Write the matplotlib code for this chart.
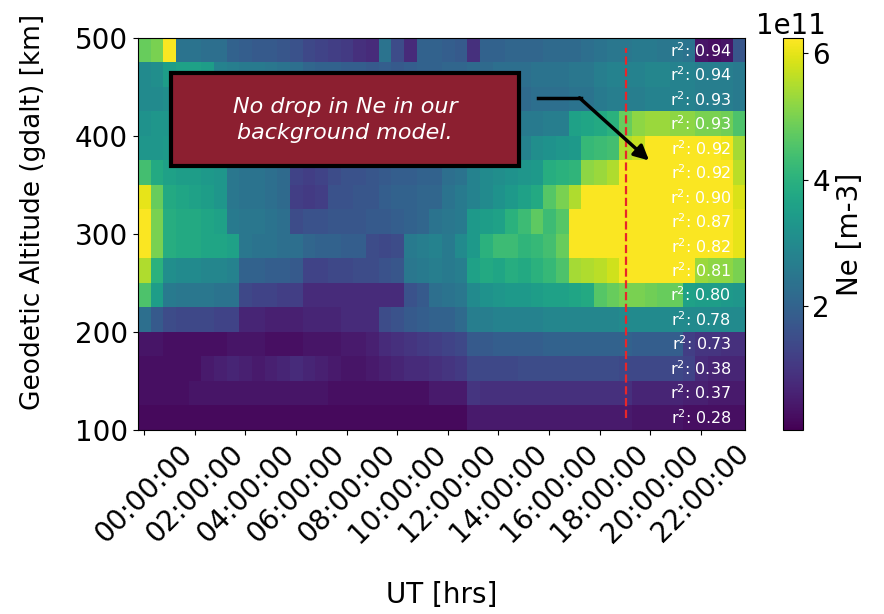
import numpy as np
import matplotlib
matplotlib.use("Agg")
import matplotlib.pyplot as plt
from matplotlib.patches import Rectangle

# half-hour UT bins (centres, hours) and 25 km altitude bins (centres, km, top -> bottom)
ut_hours = np.arange(48) * 0.5
alt_km = [487.5, 462.5, 437.5, 412.5, 387.5, 362.5, 337.5, 312.5,
          287.5, 262.5, 237.5, 212.5, 187.5, 162.5, 137.5, 112.5]

# background-model Ne, units of 1e11 m^-3, one list per altitude row (top -> bottom)
ne_grid = [
    [4.8, 5.0, 6.2, 2.4, 2.4, 2.3, 2.3, 2.0, 1.9, 1.8, 1.8, 1.7, 1.6, 1.4, 1.3, 1.2, 1.1, 0.9, 0.8, 2.4, 1.5, 0.8, 2.0, 2.0,
     1.9, 1.8, 0.9, 2.0, 2.0, 2.1, 2.1, 2.1, 2.2, 2.2, 2.2, 2.3, 2.4, 2.5, 2.5, 2.6, 2.6, 2.5, 2.5, 2.4, 0.4, 0.3, 0.4, 1.7],
    [3.0, 3.1, 3.5, 3.6, 3.6, 3.5, 2.8, 2.7, 2.6, 2.6, 2.5, 2.4, 2.3, 2.1, 2.0, 2.0, 1.9, 1.9, 1.8, 1.9, 1.8, 1.9, 2.0, 2.0,
     2.1, 2.1, 2.2, 2.2, 2.3, 2.3, 2.3, 2.4, 2.4, 2.4, 2.5, 2.5, 2.7, 2.8, 2.8, 2.8, 2.9, 2.9, 2.8, 2.8, 2.7, 2.7, 2.7, 2.6],
    [3.0, 3.0, 3.1, 3.2, 3.2, 3.1, 3.0, 2.7, 2.6, 2.5, 2.4, 2.3, 2.2, 2.0, 2.0, 1.9, 1.9, 1.8, 1.8, 1.8, 1.9, 1.9, 1.9, 2.0,
     2.0, 2.0, 2.0, 2.1, 2.1, 2.2, 2.2, 2.3, 2.3, 2.3, 2.4, 2.4, 2.6, 2.7, 2.7, 2.7, 2.8, 2.8, 2.8, 2.8, 2.7, 2.7, 2.7, 2.6],
    [3.2, 3.3, 3.3, 3.4, 3.4, 3.3, 3.2, 2.8, 2.7, 2.6, 2.5, 2.4, 2.3, 2.1, 2.0, 2.0, 1.9, 1.9, 1.9, 2.0, 2.0, 2.1, 2.1, 2.2,
     2.2, 2.3, 2.3, 2.4, 2.5, 2.5, 2.6, 2.6, 2.7, 2.7, 3.6, 3.7, 3.8, 4.0, 4.8, 5.2, 5.3, 5.3, 5.2, 5.2, 5.0, 5.0, 4.9, 4.5],
    [3.3, 3.3, 3.4, 3.5, 3.5, 3.4, 3.3, 2.9, 2.8, 2.7, 2.6, 2.5, 2.4, 2.2, 2.1, 2.0, 2.0, 2.0, 2.1, 2.1, 2.2, 2.2, 2.3, 2.4,
     2.5, 2.5, 2.6, 2.6, 2.7, 2.7, 2.8, 3.1, 3.2, 3.3, 3.4, 4.2, 4.3, 4.4, 5.5, 5.7, 6.2, 6.2, 6.2, 6.2, 6.2, 6.2, 6.1, 5.4],
    [4.4, 3.8, 3.6, 3.5, 3.5, 3.4, 3.3, 2.5, 2.4, 2.4, 2.3, 2.2, 1.3, 1.2, 1.3, 1.5, 1.6, 1.6, 1.7, 1.8, 1.9, 1.9, 2.0, 2.0,
     2.3, 2.4, 2.8, 3.0, 3.1, 3.2, 3.3, 3.4, 3.9, 4.0, 4.1, 5.2, 5.3, 5.5, 6.2, 6.2, 6.2, 6.2, 6.2, 6.2, 6.2, 6.2, 6.2, 5.6],
    [6.0, 4.8, 3.8, 3.7, 3.6, 3.5, 3.3, 2.5, 2.4, 2.4, 2.3, 2.2, 1.2, 1.1, 1.2, 1.6, 1.6, 1.7, 1.7, 1.9, 2.0, 2.0, 2.1, 2.1,
     2.4, 2.6, 2.8, 3.0, 3.2, 3.4, 3.6, 3.8, 4.6, 5.0, 5.5, 6.2, 6.2, 6.2, 6.2, 6.2, 6.2, 6.2, 6.2, 6.2, 6.2, 6.2, 6.2, 5.9],
    [6.2, 5.0, 3.9, 3.8, 3.8, 3.7, 3.6, 2.6, 2.5, 2.5, 2.4, 2.3, 1.5, 1.6, 1.6, 1.7, 1.7, 1.7, 1.8, 1.8, 1.9, 2.0, 2.1, 2.4,
     2.5, 2.6, 3.4, 3.5, 3.6, 4.0, 4.3, 4.7, 4.3, 4.6, 6.2, 6.2, 6.2, 6.2, 6.2, 6.2, 6.2, 6.2, 6.2, 6.2, 6.2, 6.2, 6.2, 6.0],
    [6.2, 5.0, 3.9, 3.8, 3.8, 3.7, 3.7, 3.6, 2.5, 2.4, 2.4, 2.3, 2.3, 2.1, 2.0, 2.0, 1.9, 1.9, 1.5, 1.4, 1.5, 2.6, 2.7, 2.8,
     2.6, 3.0, 3.4, 4.0, 4.3, 4.3, 4.1, 4.2, 4.4, 4.8, 6.2, 6.2, 6.2, 6.2, 6.2, 6.2, 6.2, 6.2, 6.2, 6.2, 6.2, 6.2, 6.2, 6.0],
    [5.5, 4.0, 3.1, 3.0, 3.0, 2.9, 2.9, 2.8, 2.0, 2.0, 1.9, 1.9, 1.8, 1.3, 1.3, 1.4, 1.4, 1.5, 1.5, 1.6, 1.7, 2.5, 2.6, 2.7,
     2.6, 2.7, 3.6, 3.8, 3.7, 3.9, 3.8, 4.0, 4.2, 4.5, 5.4, 5.5, 5.6, 5.8, 6.2, 6.2, 6.2, 6.2, 6.2, 6.2, 5.3, 5.2, 5.2, 5.0],
    [4.5, 3.5, 2.6, 2.5, 2.5, 2.5, 2.4, 2.4, 1.4, 1.3, 1.3, 1.2, 1.2, 0.8, 0.8, 0.8, 0.8, 0.8, 0.8, 0.8, 0.8, 1.6, 1.8, 2.3,
     2.4, 2.5, 3.0, 3.2, 3.3, 3.4, 3.4, 3.5, 3.6, 3.6, 3.7, 3.8, 4.6, 4.8, 5.0, 5.0, 4.9, 4.8, 4.8, 3.6, 3.5, 3.5, 3.4, 3.3],
    [2.3, 1.8, 1.5, 1.4, 1.4, 1.4, 1.3, 1.3, 0.7, 0.7, 0.6, 0.6, 0.6, 0.7, 0.7, 0.7, 0.8, 0.8, 0.8, 1.5, 1.6, 1.8, 1.9, 2.0,
     2.0, 2.2, 2.7, 2.7, 2.8, 2.8, 2.8, 2.8, 2.9, 2.9, 2.9, 2.9, 2.9, 2.9, 3.0, 3.0, 3.0, 3.0, 3.0, 3.0, 3.0, 3.0, 3.0, 3.0],
    [0.4, 0.4, 0.3, 0.3, 0.3, 0.3, 0.3, 0.4, 0.4, 0.4, 0.3, 0.3, 0.3, 0.4, 0.4, 0.4, 0.5, 0.5, 0.6, 0.8, 0.9, 1.0, 1.1, 1.2,
     1.3, 1.4, 1.8, 1.8, 1.9, 1.9, 1.9, 1.9, 2.0, 2.0, 2.0, 2.0, 2.0, 2.0, 2.0, 1.9, 1.9, 1.9, 1.9, 1.2, 1.0, 1.0, 0.9, 0.9],
    [0.3, 0.3, 0.3, 0.3, 0.3, 0.5, 0.6, 0.7, 0.6, 0.5, 0.6, 0.7, 0.8, 0.7, 0.6, 0.5, 0.4, 0.4, 0.5, 0.6, 0.7, 0.8, 0.8, 0.9,
     1.0, 1.1, 1.4, 1.4, 1.4, 1.4, 1.5, 1.5, 1.5, 1.5, 1.5, 1.5, 1.5, 1.5, 1.4, 1.4, 1.4, 1.4, 1.4, 1.3, 0.8, 0.7, 0.7, 0.7],
    [0.3, 0.3, 0.3, 0.3, 0.4, 0.4, 0.4, 0.4, 0.4, 0.4, 0.4, 0.4, 0.4, 0.4, 0.4, 0.3, 0.3, 0.3, 0.3, 0.3, 0.3, 0.3, 0.3, 0.5,
     0.5, 0.5, 1.0, 0.9, 0.9, 0.9, 0.9, 0.9, 0.9, 0.9, 0.9, 0.9, 0.9, 0.9, 0.9, 0.7, 0.7, 0.7, 0.7, 0.6, 0.6, 0.5, 0.5, 0.5],
    [0.2, 0.2, 0.2, 0.2, 0.2, 0.2, 0.2, 0.2, 0.2, 0.2, 0.2, 0.2, 0.2, 0.2, 0.2, 0.2, 0.2, 0.2, 0.2, 0.2, 0.2, 0.2, 0.2, 0.2,
     0.2, 0.2, 0.5, 0.5, 0.5, 0.5, 0.5, 0.5, 0.5, 0.5, 0.5, 0.5, 0.5, 0.5, 0.5, 0.4, 0.4, 0.4, 0.4, 0.3, 0.3, 0.3, 0.3, 0.3],
]

# fit quality per altitude row (top -> bottom)
r2_values = [0.94, 0.94, 0.93, 0.93, 0.92, 0.92, 0.90, 0.87,
             0.82, 0.81, 0.80, 0.78, 0.73, 0.38, 0.37, 0.28]

tick_hours = list(range(0, 24, 2))
tick_labels = [f"{h:02d}:00:00" for h in tick_hours]
cbar_ticks = [2e11, 4e11, 6e11]

event_ut = 19.05          # red dashed marker

ne = np.array(ne_grid) * 1e11
dt = ut_hours[1] - ut_hours[0]
dz = alt_km[0] - alt_km[1]

fig = plt.figure(figsize=(8.84, 6.14), dpi=100)
ax = fig.add_axes([0.156, 0.300, 0.687, 0.638])
cax = fig.add_axes([0.886, 0.300, 0.022, 0.638])

im = ax.imshow(ne, cmap="viridis", aspect="auto", interpolation="nearest",
               vmin=0.05e11, vmax=6.24e11,
               extent=[ut_hours[0] - dt / 2, ut_hours[-1] + dt / 2,
                       alt_km[-1] - dz / 2, alt_km[0] + dz / 2])

cbar = fig.colorbar(im, cax=cax, ticks=cbar_ticks)
cbar.set_label("Ne [m-3]", fontsize=20)
cbar.ax.tick_params(labelsize=20)
off = cbar.ax.yaxis.get_offset_text()
off.set_fontsize(20)
off.set_x(off.get_position()[0] + 1.2)

# r^2 labels on the right edge of each altitude row
for z, r2 in zip(alt_km, r2_values):
    ax.text(23.2, z, f"r$^2$: {r2:.2f}", color="white", fontsize=11.5,
            ha="right", va="center")

ax.plot([event_ut, event_ut], [112, 490], color="#e8262a", ls="--", lw=1.6)

# callout box
ax.add_patch(Rectangle((1.07, 369), 13.73, 95, facecolor="#8c1f30",
                       edgecolor="black", lw=3, zorder=4))
ax.text(7.93, 416.5, "No drop in Ne in our\nbackground model.", color="white",
        fontsize=16, style="italic", ha="center", va="center",
        linespacing=1.35, zorder=5)
ax.plot([15.56, 17.26], [439, 439], color="black", lw=2.5, zorder=5)
ax.annotate("", xy=(19.95, 375), xytext=(17.2, 439),
            arrowprops=dict(arrowstyle="-|>", color="black", lw=2.5,
                            mutation_scale=22, shrinkA=0, shrinkB=0), zorder=5)

ax.set_xticks(tick_hours)
ax.set_xticklabels(tick_labels, rotation=45, fontsize=20)
ax.set_yticks([100, 200, 300, 400, 500])
ax.tick_params(axis="y", labelsize=20)
ax.set_xlabel("UT [hrs]", fontsize=20, labelpad=24)
ax.set_ylabel("Geodetic Altitude (gdalt) [km]", fontsize=19)
ax.yaxis.set_label_coords(-0.152, 0.555)

fig.savefig("out.png", dpi=100)
plt.close(fig)
